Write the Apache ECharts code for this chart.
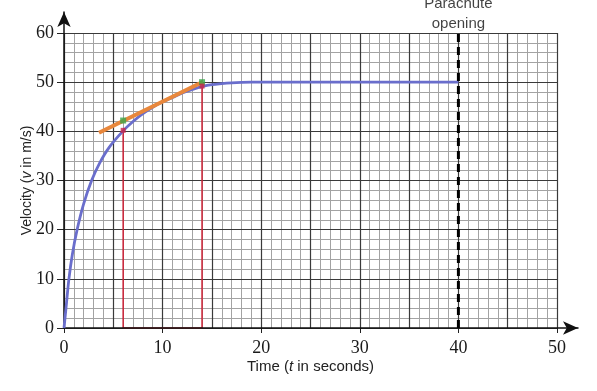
<!DOCTYPE html>
<html>
<head>
<meta charset="utf-8">
<script src="https://cdn.jsdelivr.net/npm/echarts@6/dist/echarts.min.js"></script>
<style>
html,body{margin:0;padding:0;background:#fff;}
#chart{width:597px;height:391px;}
</style>
</head>
<body>
<div id="chart"></div>
<script>
// ---- data ----
const timeValues     = [0, 0.25, 0.5, 0.85, 1.33, 2, 2.8, 3.6, 4.6, 6, 7, 8, 9, 10, 11, 12, 13, 14, 15, 16, 17, 18, 19, 20, 25, 30, 35, 40];
const velocityValues = [0, 5, 10, 15, 20, 25.3, 30, 33.5, 36.8, 40.1, 42, 43.6, 44.9, 46, 46.9, 47.8, 48.5, 49.1, 49.5, 49.7, 49.85, 49.95, 50, 50, 50, 50, 50, 50];
const tangentT = [3.55, 14.1];
const tangentV = [39.7, 50.1];
const greenT = [6, 14];
const greenV = [42.2, 50];
const redT = [6, 14];
const redV = [40.2, 49.2];
const rectT = [6, 6, 14, 14];
const rectV = [40.2, 0, 0, 49.2];
const parachuteT = 40;
const parachuteV = [0, 60];
const parachuteText = 'Parachute\nopening';
const xName = 'Time ({i|t} in seconds)';
const yName = 'Velocity ({i|v} in m/s)';

const pairs = (a, b) => a.map((v, i) => [v, b[i]]);

const chart = echarts.init(document.getElementById('chart'));
const serif = 'Liberation Serif, Times New Roman, serif';
const sans = 'Liberation Sans, Arial, sans-serif';
const hidden = {show: false};

const option = {
  animation: false,
  backgroundColor: '#fff',
  grid: [
    {left: 64, right: 40, top: 33, bottom: 63},
    {left: 64, right: 19, top: 12, bottom: 63}
  ],
  xAxis: [
    {
      type: 'value', gridIndex: 0, min: 0, max: 50, interval: 10, z: 3,
      axisLine: hidden,
      axisTick: {show: true, length: 5, inside: false, lineStyle: {color: '#222', width: 1}},
      axisLabel: {fontFamily: serif, fontSize: 18, color: '#1a1a1a', margin: 11},
      splitLine: hidden,
      name: xName, nameLocation: 'middle', nameGap: 31, nameMoveOverlap: false,
      nameTextStyle: {fontFamily: sans, fontSize: 15, color: '#222',
        rich: {i: {fontStyle: 'italic', fontFamily: sans, fontSize: 15, color: '#222'}}}
    },
    {
      type: 'value', gridIndex: 0, min: 0, max: 50, interval: 1, z: 0,
      axisLine: hidden, axisTick: hidden, axisLabel: hidden,
      splitLine: {show: true, lineStyle: {color: '#a3a3a3', width: 1}}
    },
    {
      type: 'value', gridIndex: 0, min: 0, max: 50, interval: 5, z: 1,
      axisLine: hidden, axisTick: hidden, axisLabel: hidden,
      splitLine: {show: true, lineStyle: {color: '#3a3a3a', width: 1.2}}
    },
    {
      type: 'value', gridIndex: 1, min: 0, max: 52.1, z: 4,
      axisLine: {show: true, symbol: ['none', 'arrow'], symbolSize: [10, 15], lineStyle: {color: '#111', width: 1.5}},
      axisTick: hidden, axisLabel: hidden, splitLine: hidden
    }
  ],
  yAxis: [
    {
      type: 'value', gridIndex: 0, min: 0, max: 60, interval: 10, z: 3,
      axisLine: hidden,
      axisTick: {show: true, length: 7, inside: false, lineStyle: {color: '#222', width: 1}},
      axisLabel: {fontFamily: serif, fontSize: 18, color: '#1a1a1a', margin: 10},
      splitLine: hidden,
      name: yName, nameLocation: 'middle', nameGap: 30, nameMoveOverlap: false,
      nameTextStyle: {fontFamily: sans, fontSize: 14, color: '#222',
        rich: {i: {fontStyle: 'italic', fontFamily: sans, fontSize: 14, color: '#222'}}}
    },
    {
      type: 'value', gridIndex: 0, min: 0, max: 60, interval: 2, z: 0,
      axisLine: hidden, axisTick: hidden, axisLabel: hidden,
      splitLine: {show: true, lineStyle: {color: '#a3a3a3', width: 1}}
    },
    {
      type: 'value', gridIndex: 0, min: 0, max: 60, interval: 10, z: 1,
      axisLine: hidden, axisTick: hidden, axisLabel: hidden,
      splitLine: {show: true, lineStyle: {color: '#3a3a3a', width: 1.2}}
    },
    {
      type: 'value', gridIndex: 1, min: 0, max: 64.3, z: 4,
      axisLine: {show: true, symbol: ['none', 'arrow'], symbolSize: [10, 15], lineStyle: {color: '#111', width: 1.5}},
      axisTick: hidden, axisLabel: hidden, splitLine: hidden
    }
  ],
  series: [
    {
      type: 'line', xAxisIndex: 0, yAxisIndex: 0, z: 3,
      data: pairs(rectT, rectV), symbol: 'none',
      lineStyle: {color: '#cc2236', width: 1.5}
    },
    {
      type: 'line', xAxisIndex: 0, yAxisIndex: 0, z: 4,
      data: pairs(timeValues, velocityValues), smooth: 0.35,
      symbol: 'none', lineStyle: {color: '#6a6ecc', width: 2.8}
    },
    {
      type: 'line', xAxisIndex: 0, yAxisIndex: 0, z: 5,
      data: pairs(tangentT, tangentV), symbol: 'none',
      lineStyle: {color: '#e8873c', width: 4}
    },
    {
      type: 'scatter', xAxisIndex: 0, yAxisIndex: 0, z: 6,
      data: pairs(greenT, greenV), symbol: 'rect', symbolSize: 6,
      itemStyle: {color: '#3aa64a'}
    },
    {
      type: 'scatter', xAxisIndex: 0, yAxisIndex: 0, z: 6,
      data: pairs(redT, redV), symbol: 'rect', symbolSize: 5,
      itemStyle: {color: '#cc2244'}
    },
    {
      type: 'line', xAxisIndex: 0, yAxisIndex: 0, z: 5,
      data: parachuteV.map(v => [parachuteT, v]), symbol: 'none',
      lineStyle: {color: '#000', width: 3, type: [8, 5]}
    },
    {
      type: 'scatter', xAxisIndex: 0, yAxisIndex: 0, z: 6,
      data: [[parachuteT, parachuteV[1]]], symbolSize: 0, silent: true,
      label: {show: true, position: 'top', distance: -1, formatter: parachuteText,
        fontFamily: sans, fontSize: 15, lineHeight: 20, color: '#111'}
    }
  ]
};
chart.setOption(option);
</script>
</body>
</html>
